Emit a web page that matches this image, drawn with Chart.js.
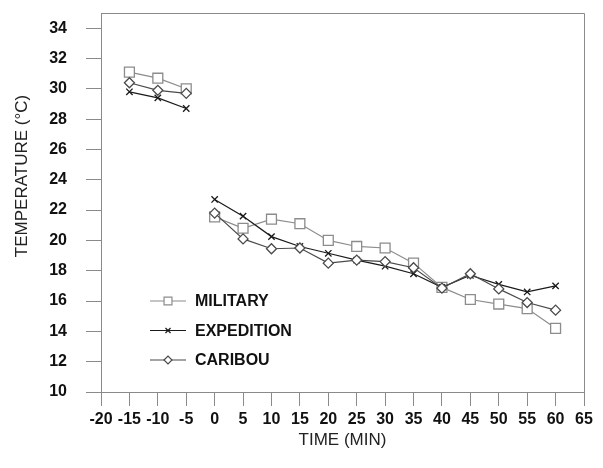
<!DOCTYPE html>
<html>
<head>
<meta charset="utf-8">
<script src="https://cdn.jsdelivr.net/npm/chart.js@4.4.0/dist/chart.umd.min.js"></script>
<style>
  html, body { margin: 0; padding: 0; background: #fff; }
  #wrap { width: 603px; height: 468px; }
</style>
</head>
<body>
<div id="wrap"><canvas id="tempChart" width="603" height="468"></canvas></div>
<script>
// Tiempos (min) y temperaturas (°C)
const tiemposAntes = [-15, -10, -5];
const tiemposDespues = [0, 5, 10, 15, 20, 25, 30, 35, 40, 45, 50, 55, 60];

const militaryAntes = [31.1, 30.7, 30.0];
const expeditionAntes = [29.8, 29.4, 28.7];
const caribouAntes = [30.4, 29.9, 29.7];

const militaryDespues = [21.55, 20.8, 21.4, 21.1, 20.0, 19.6, 19.5, 18.5, 16.9, 16.1, 15.8, 15.5, 14.2];
const expeditionDespues = [22.7, 21.6, 20.25, 19.6, 19.15, 18.7, 18.3, 17.8, 16.9, 17.7, 17.1, 16.6, 17.0];
const caribouDespues = [21.8, 20.1, 19.45, 19.5, 18.5, 18.7, 18.6, 18.2, 16.85, 17.8, 16.8, 15.9, 15.4];

const series = ['MILITARY', 'EXPEDITION', 'CARIBOU'];
const tiemposTicks = [-20, -15, -10, -5, 0, 5, 10, 15, 20, 25, 30, 35, 40, 45, 50, 55, 60, 65];
const tempTicks = [10, 12, 14, 16, 18, 20, 22, 24, 26, 28, 30, 32, 34];

// Estilos de cada serie
const estilos = {
    MILITARY:   { color: '#8c8c8c', pointStyle: 'rect',     radius: 7,   antes: militaryAntes,   despues: militaryDespues },
    EXPEDITION: { color: '#1a1a1a', pointStyle: 'crossRot', radius: 4.5, antes: expeditionAntes, despues: expeditionDespues },
    CARIBOU:    { color: '#4a4a4a', pointStyle: 'rectRot',  radius: 5,   antes: caribouAntes,    despues: caribouDespues }
};

function puntos(xs, ys) {
    return xs.map((x, i) => ({ x: x, y: ys[i] }));
}

// Orden de dibujo: el primero queda encima
const ordenDibujo = ['CARIBOU', 'EXPEDITION', 'MILITARY'];
const datasets = [];
ordenDibujo.forEach(nombre => {
    const s = estilos[nombre];
    [[tiemposAntes, s.antes], [tiemposDespues, s.despues]].forEach(([xs, ys]) => {
        datasets.push({
            label: nombre,
            data: puntos(xs, ys),
            borderColor: s.color,
            backgroundColor: '#ffffff',
            borderWidth: 1.2,
            pointStyle: s.pointStyle,
            pointRadius: s.radius,
            pointBorderWidth: 1.3,
            pointBackgroundColor: '#ffffff',
            pointBorderColor: s.color,
            tension: 0,
            fill: false
        });
    });
});

const colorEje = '#8a8a8a';

// Marco superior y derecho
const marcoPlugin = {
    id: 'marco',
    beforeDatasetsDraw(chart) {
        const a = chart.chartArea;
        const ctx = chart.ctx;
        ctx.save();
        ctx.strokeStyle = colorEje;
        ctx.lineWidth = 1;
        ctx.beginPath();
        ctx.moveTo(a.left, a.top + 0.5);
        ctx.lineTo(a.right + 0.5, a.top + 0.5);
        ctx.lineTo(a.right + 0.5, a.bottom + 14);
        ctx.stroke();
        ctx.restore();
    }
};

// Leyenda dentro del area del grafico y titulo del eje Y
const leyendaPlugin = {
    id: 'leyenda',
    afterDraw(chart) {
        const a = chart.chartArea;
        const ctx = chart.ctx;
        series.forEach((nombre, i) => {
            const s = estilos[nombre];
            const y = a.top + 288 + i * 29.5;
            const x0 = a.left + 49;
            ctx.save();
            ctx.strokeStyle = s.color;
            ctx.lineWidth = 1.2;
            ctx.beginPath();
            ctx.moveTo(x0, y);
            ctx.lineTo(x0 + 36, y);
            ctx.stroke();
            ctx.fillStyle = '#ffffff';
            Chart.helpers.drawPoint(ctx, {
                pointStyle: s.pointStyle,
                radius: s.radius * 0.8,
                borderWidth: 1.2,
                rotation: 0
            }, x0 + 18, y);
            ctx.fillStyle = '#111';
            ctx.font = 'bold 16px "Liberation Sans", Arial, sans-serif';
            ctx.textBaseline = 'middle';
            ctx.textAlign = 'left';
            ctx.fillText(nombre, x0 + 45, y + 1);
            ctx.restore();
        });

        // Titulo eje Y
        ctx.save();
        ctx.translate(22, a.top + (a.bottom - a.top) * 0.43);
        ctx.rotate(-Math.PI / 2);
        ctx.fillStyle = '#222';
        ctx.font = '17px "Liberation Sans", Arial, sans-serif';
        ctx.textAlign = 'center';
        ctx.textBaseline = 'middle';
        ctx.fillText('TEMPERATURE (°C)', 0, 0);
        ctx.restore();
    }
};

const ctx = document.getElementById('tempChart').getContext('2d');
const tempChart = new Chart(ctx, {
    type: 'line',
    data: { datasets: datasets },
    options: {
        responsive: false,
        animation: false,
        layout: { padding: { left: 0, top: 13, right: 19, bottom: 13 } },
        plugins: {
            legend: { display: false },
            tooltip: { enabled: false }
        },
        scales: {
            x: {
                type: 'linear',
                position: 'bottom',
                min: -20,
                max: 65,
                afterBuildTicks: axis => { axis.ticks = tiemposTicks.map(v => ({ value: v })); },
                afterFit: axis => {
                    axis.height = 63;
                    axis.paddingLeft = 0;
                    axis.paddingRight = 0;
                },
                ticks: {
                    autoSkip: false,
                    maxRotation: 0,
                    padding: 4,
                    color: '#111',
                    font: { family: '"Liberation Sans", Arial, sans-serif', size: 16, weight: 'bold' }
                },
                grid: { drawOnChartArea: false, tickLength: 14, color: colorEje },
                border: { color: colorEje },
                title: {
                    display: true,
                    text: 'TIME (MIN)',
                    color: '#222',
                    font: { family: '"Liberation Sans", Arial, sans-serif', size: 17 }
                }
            },
            y: {
                min: 10,
                max: 35,
                afterBuildTicks: axis => { axis.ticks = tempTicks.map(v => ({ value: v })); },
                afterFit: axis => {
                    axis.width = 101;
                    axis.paddingTop = 0;
                    axis.paddingBottom = 0;
                },
                ticks: {
                    padding: 19,
                    color: '#111',
                    font: { family: '"Liberation Sans", Arial, sans-serif', size: 16, weight: 'bold' }
                },
                grid: { drawOnChartArea: false, tickLength: 15, color: colorEje },
                border: { color: colorEje }
            }
        }
    },
    plugins: [marcoPlugin, leyendaPlugin]
});
</script>
</body>
</html>
